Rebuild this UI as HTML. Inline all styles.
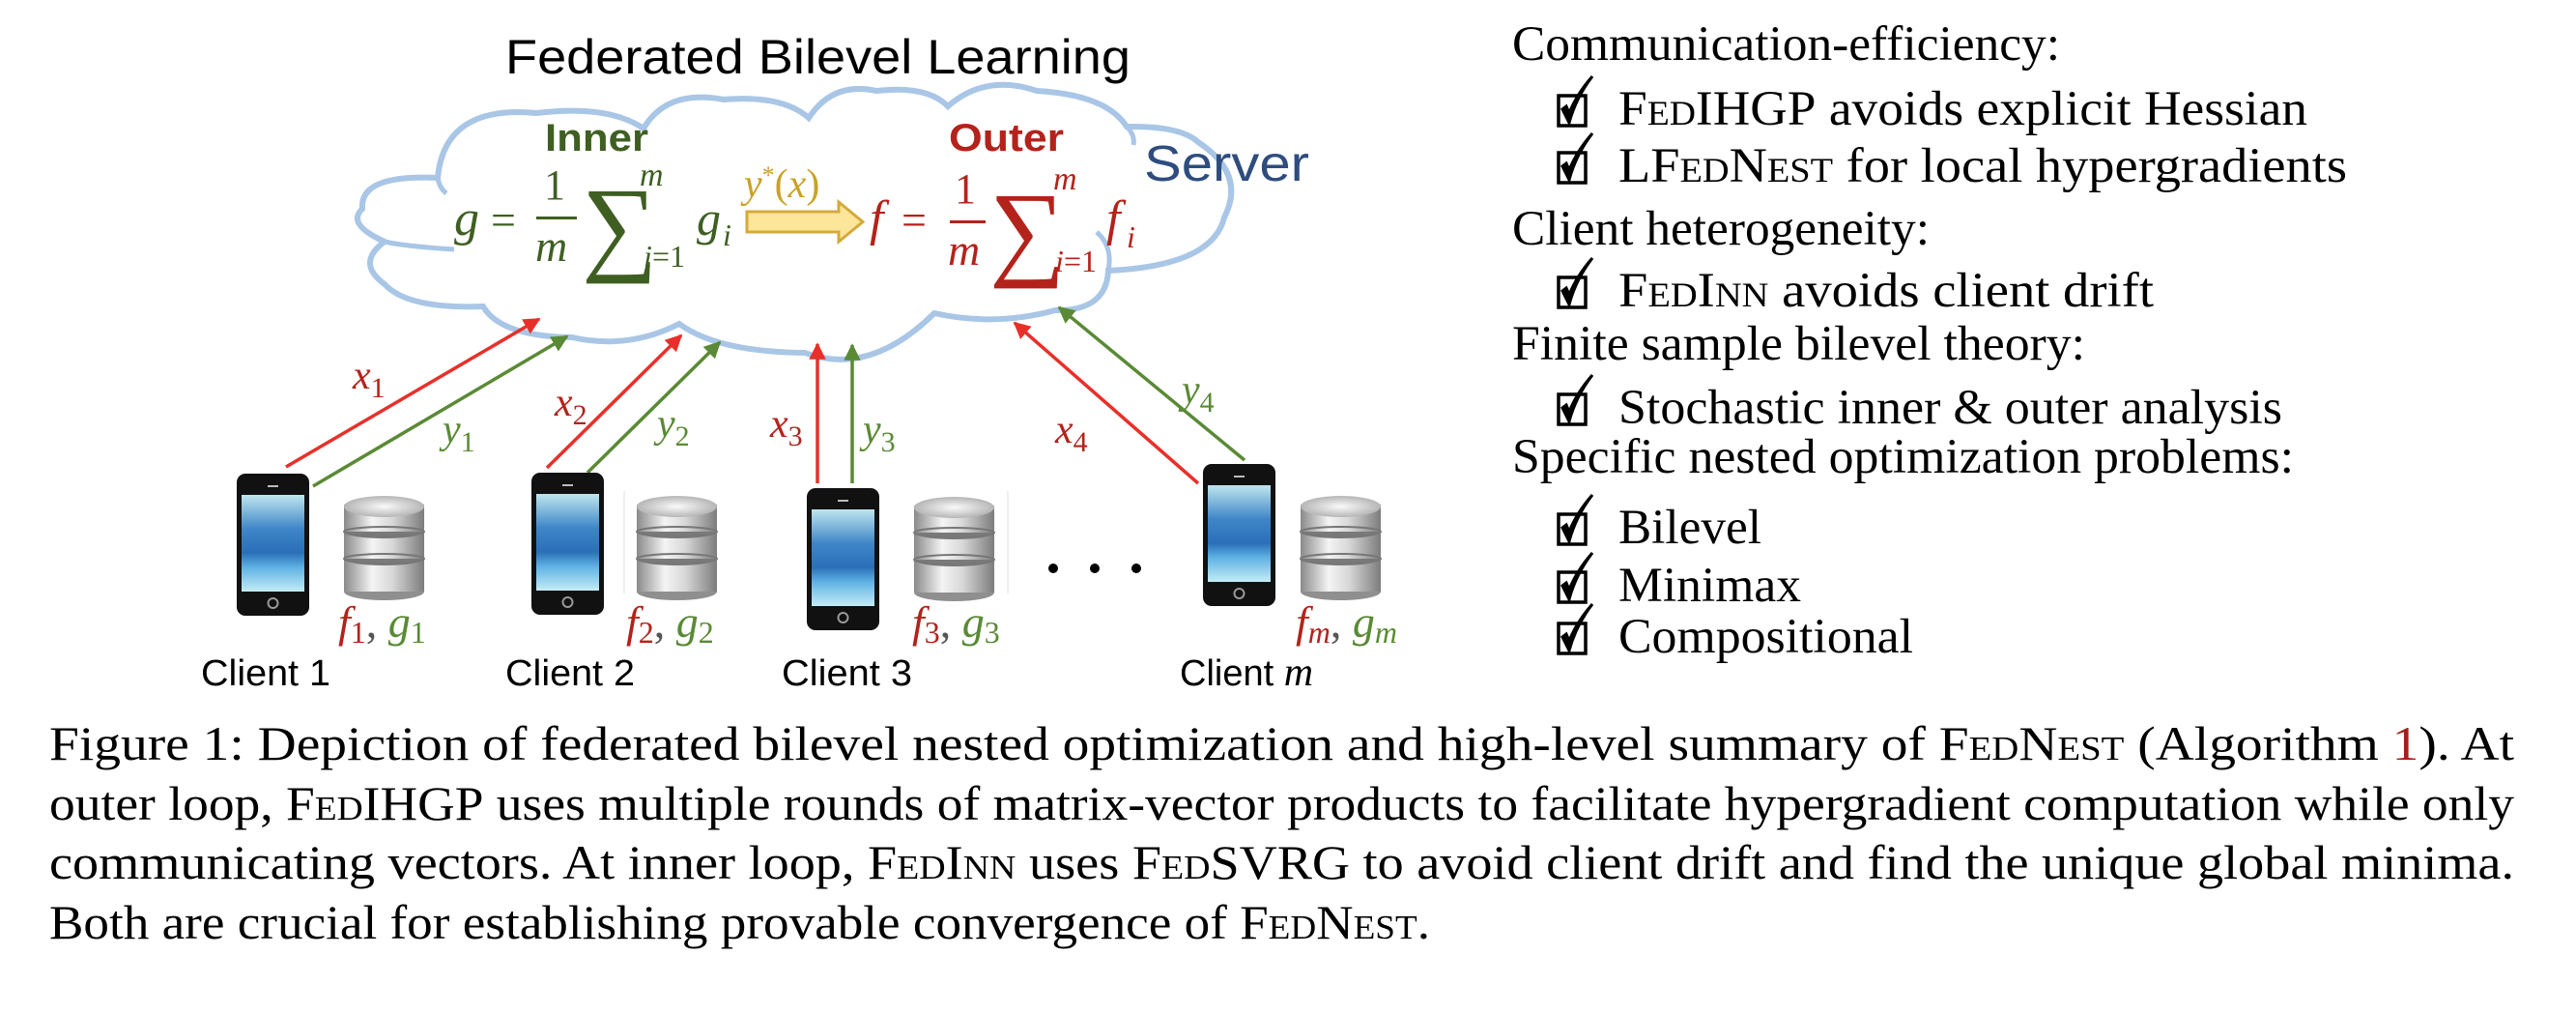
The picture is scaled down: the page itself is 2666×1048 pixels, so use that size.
<!DOCTYPE html>
<html><head><meta charset="utf-8"><style>
html,body{margin:0;padding:0;background:#fff;}
svg{display:block;}
.ser{font-family:"Liberation Serif",serif;}
.sans{font-family:"Liberation Sans",sans-serif;}
.sc{font-variant:small-caps;}
</style></head><body>
<svg width="2666" height="1048" viewBox="0 0 2666 1048" xmlns="http://www.w3.org/2000/svg">
<defs>
<marker id="ar" viewBox="0 0 10 10" refX="9" refY="5" markerWidth="5" markerHeight="5" orient="auto"><path d="M0,0L10,5L0,10z" fill="#e8302a"/></marker>
<marker id="ag" viewBox="0 0 10 10" refX="9" refY="5" markerWidth="5" markerHeight="5" orient="auto"><path d="M0,0L10,5L0,10z" fill="#5a8a35"/></marker>
<linearGradient id="scr" x1="0" y1="0" x2="0" y2="1">
<stop offset="0" stop-color="#bfe6ee"/><stop offset="0.35" stop-color="#3f86c8"/><stop offset="0.6" stop-color="#2a6fb8"/><stop offset="0.75" stop-color="#5fb2e4"/><stop offset="1" stop-color="#c4ecf6"/></linearGradient>
<linearGradient id="cyl" x1="0" y1="0" x2="1" y2="0">
<stop offset="0" stop-color="#8a8a8a"/><stop offset="0.35" stop-color="#f4f4f4"/><stop offset="0.6" stop-color="#d8d8d8"/><stop offset="1" stop-color="#7c7c7c"/></linearGradient>
<radialGradient id="top" cx="0.5" cy="0.5" r="0.6"><stop offset="0" stop-color="#fafafa"/><stop offset="1" stop-color="#a8a8a8"/></radialGradient>
<g id="phone">
<rect x="0" y="0" width="75" height="147" rx="9" fill="#111"/>
<rect x="5" y="22" width="65" height="100" fill="url(#scr)"/>
<rect x="32" y="12" width="11" height="2" fill="#bbb"/>
<circle cx="37.5" cy="134" r="5" fill="none" stroke="#999" stroke-width="2"/>
</g>
<g id="db">
<rect x="0" y="10" width="83" height="90" fill="url(#cyl)"/>
<ellipse cx="41.5" cy="100" rx="41.5" ry="9" fill="#8f8f8f"/>
<rect x="0" y="66" width="83" height="34" fill="url(#cyl)"/>
<ellipse cx="41.5" cy="66" rx="41.5" ry="7" fill="#7a7a7a"/>
<rect x="0" y="38" width="83" height="28" fill="url(#cyl)"/>
<ellipse cx="41.5" cy="66" rx="41.5" ry="5" fill="none" stroke="#777" stroke-width="2"/>
<ellipse cx="41.5" cy="38" rx="41.5" ry="7" fill="#7a7a7a"/>
<rect x="0" y="12" width="83" height="26" fill="url(#cyl)"/>
<ellipse cx="41.5" cy="38" rx="41.5" ry="5" fill="none" stroke="#777" stroke-width="2"/>
<ellipse cx="41.5" cy="12" rx="41.5" ry="11" fill="url(#top)"/>
</g>
<g id="cb">
<rect x="1" y="16" width="28" height="31" fill="none" stroke="#000" stroke-width="3.5"/>
<path d="M5,30 L12,44 Q19,18 36,-4 Q20,14 12,34 L9,27 Z" fill="#000" stroke="#000" stroke-width="3"/>
</g>
</defs>

<text class="sans" x="523" y="76" font-size="50" textLength="647" lengthAdjust="spacingAndGlyphs">Federated Bilevel Learning</text>

<path d="M453,184 Q460,108 555,117 Q630,108 666,133 Q690,92 749,103 Q810,98 837,122 Q862,84 907,94 Q960,88 981,110 Q1020,76 1073,94 Q1145,98 1166,131 Q1222,130 1240,147 Q1290,180 1267,225 Q1255,275 1147,280 Q1145,322 1092,321 Q1030,338 967,324 Q900,390 833,365 Q742,364 703,335 Q650,362 592,349 Q518,348 500,317 Q422,320 398,294 Q368,272 398,250 Q358,232 375,216 Q372,180 453,184 Z" fill="#fff" stroke="#a9c6e6" stroke-width="6"/>
<path d="M453,184 Q455,195 462,200" fill="none" stroke="#a9c6e6" stroke-width="5"/>
<path d="M1166,131 Q1175,140 1173,150" fill="none" stroke="#a9c6e6" stroke-width="5"/>
<path d="M1147,280 Q1152,255 1135,240" fill="none" stroke="#a9c6e6" stroke-width="5"/>
<path d="M398,250 Q420,255 470,258" fill="none" stroke="#a9c6e6" stroke-width="5"/>

<text class="sans" x="564" y="156" font-size="40" font-weight="bold" fill="#3f5f22" textLength="107" lengthAdjust="spacingAndGlyphs">Inner</text>
<text class="sans" x="982" y="156" font-size="40" font-weight="bold" fill="#b3231b" textLength="119" lengthAdjust="spacingAndGlyphs">Outer</text>
<text class="sans" x="1184" y="187" font-size="52" fill="#2e4d7e" textLength="171" lengthAdjust="spacingAndGlyphs">Server</text>

<g class="ser" fill="#3f5f22" font-style="italic">
<text x="470" y="243" font-size="52">g</text>
<text x="508" y="243" font-size="46" font-style="normal">=</text>
<text x="563" y="206" font-size="44" font-style="normal">1</text>
<rect x="555" y="224" width="42" height="3"/>
<text x="554" y="270" font-size="46">m</text>
<text x="602" y="270" font-size="110" font-style="normal">∑</text>
<text x="662" y="192" font-size="34">m</text>
<text x="666" y="276" font-size="32">i</text><text x="675" y="276" font-size="32" font-style="normal">=1</text>
<text x="721" y="243" font-size="50">g</text><text x="748" y="254" font-size="32">i</text>
</g>
<text class="ser" x="770" y="204" font-size="42" font-style="italic" fill="#c9a227">y<tspan font-size="26" dy="-14" font-style="normal">*</tspan><tspan dy="14" font-style="normal">(</tspan>x<tspan font-style="normal">)</tspan></text>
<path d="M773,219 L868,219 L868,209 L893,229.5 L868,250 L868,240 L773,240 Z" fill="#fde59a" stroke="#d4aa3c" stroke-width="3"/>
<g class="ser" fill="#b3231b" font-style="italic">
<text x="900" y="243" font-size="52">f</text>
<text x="933" y="243" font-size="46" font-style="normal">=</text>
<text x="988" y="210" font-size="44" font-style="normal">1</text>
<rect x="983" y="228" width="37" height="3"/>
<text x="981" y="274" font-size="46">m</text>
<text x="1024" y="275" font-size="110" font-style="normal">∑</text>
<text x="1090" y="196" font-size="34">m</text>
<text x="1092" y="281" font-size="32">i</text><text x="1101" y="281" font-size="32" font-style="normal">=1</text>
<text x="1145" y="243" font-size="52">f</text><text x="1166" y="256" font-size="32">i</text>
</g>

<g stroke-width="3.5" fill="none">
<line x1="296" y1="483" x2="558" y2="330" stroke="#e8302a" marker-end="url(#ar)"/>
<line x1="324" y1="503" x2="587" y2="348" stroke="#5a8a35" marker-end="url(#ag)"/>
<line x1="566" y1="484" x2="705" y2="347" stroke="#e8302a" marker-end="url(#ar)"/>
<line x1="608" y1="489" x2="745" y2="354" stroke="#5a8a35" marker-end="url(#ag)"/>
<line x1="846" y1="500" x2="846" y2="356" stroke="#e8302a" marker-end="url(#ar)"/>
<line x1="882" y1="500" x2="882" y2="357" stroke="#5a8a35" marker-end="url(#ag)"/>
<line x1="1240" y1="500" x2="1050" y2="334" stroke="#e8302a" marker-end="url(#ar)"/>
<line x1="1288" y1="476" x2="1096" y2="318" stroke="#5a8a35" marker-end="url(#ag)"/>
</g>
<g class="ser" font-style="italic" font-size="42">
<text x="365" y="402" fill="#b3231b">x<tspan font-size="30" dy="9" font-style="normal">1</tspan></text>
<text x="458" y="458" fill="#5a8a35">y<tspan font-size="30" dy="9" font-style="normal">1</tspan></text>
<text x="574" y="430" fill="#b3231b">x<tspan font-size="30" dy="9" font-style="normal">2</tspan></text>
<text x="680" y="452" fill="#5a8a35">y<tspan font-size="30" dy="9" font-style="normal">2</tspan></text>
<text x="797" y="452" fill="#b3231b">x<tspan font-size="30" dy="9" font-style="normal">3</tspan></text>
<text x="893" y="458" fill="#5a8a35">y<tspan font-size="30" dy="9" font-style="normal">3</tspan></text>
<text x="1092" y="458" fill="#b3231b">x<tspan font-size="30" dy="9" font-style="normal">4</tspan></text>
<text x="1223" y="417" fill="#5a8a35">y<tspan font-size="30" dy="9" font-style="normal">4</tspan></text>
</g>

<use href="#phone" x="245" y="490"/>
<use href="#phone" x="550" y="489"/>
<use href="#phone" x="835" y="505"/>
<use href="#phone" x="1245" y="480"/>
<use href="#db" x="356" y="512"/>
<use href="#db" x="659" y="512"/>
<use href="#db" x="946" y="513"/>
<use href="#db" x="1346" y="512"/>
<line x1="646" y1="508" x2="646" y2="614" stroke="#ddd" stroke-width="1"/>
<line x1="1043" y1="508" x2="1043" y2="614" stroke="#ddd" stroke-width="1"/>
<circle cx="1090" cy="588" r="5" fill="#000"/><circle cx="1133" cy="588" r="5" fill="#000"/><circle cx="1176" cy="588" r="5" fill="#000"/>

<g class="ser" font-style="italic" font-size="46">
<text x="350" y="659"><tspan fill="#b3231b">f</tspan><tspan fill="#b3231b" font-size="32" dy="6" font-style="normal">1</tspan><tspan dy="-6" font-style="normal" fill="#555">, </tspan><tspan fill="#5a8a35">g</tspan><tspan fill="#5a8a35" font-size="32" dy="6" font-style="normal">1</tspan></text>
<text x="648" y="659"><tspan fill="#b3231b">f</tspan><tspan fill="#b3231b" font-size="32" dy="6" font-style="normal">2</tspan><tspan dy="-6" font-style="normal" fill="#555">, </tspan><tspan fill="#5a8a35">g</tspan><tspan fill="#5a8a35" font-size="32" dy="6" font-style="normal">2</tspan></text>
<text x="944" y="659"><tspan fill="#b3231b">f</tspan><tspan fill="#b3231b" font-size="32" dy="6" font-style="normal">3</tspan><tspan dy="-6" font-style="normal" fill="#555">, </tspan><tspan fill="#5a8a35">g</tspan><tspan fill="#5a8a35" font-size="32" dy="6" font-style="normal">3</tspan></text>
<text x="1341" y="659"><tspan fill="#b3231b">f</tspan><tspan fill="#b3231b" font-size="32" dy="6">m</tspan><tspan dy="-6" font-style="normal" fill="#555">, </tspan><tspan fill="#5a8a35">g</tspan><tspan fill="#5a8a35" font-size="32" dy="6">m</tspan></text>
</g>
<g class="sans" font-size="38">
<text x="208" y="709" textLength="134" lengthAdjust="spacingAndGlyphs">Client 1</text>
<text x="523" y="709" textLength="134" lengthAdjust="spacingAndGlyphs">Client 2</text>
<text x="809" y="709" textLength="135" lengthAdjust="spacingAndGlyphs">Client 3</text>
<text x="1221" y="709">Client <tspan class="ser" font-style="italic" font-size="42">m</tspan></text>
</g>

<g class="ser" font-size="51">
<text x="1565" y="62" textLength="567" lengthAdjust="spacingAndGlyphs">Communication-efficiency:</text>
<use href="#cb" x="1612" y="83"/>
<text x="1675" y="129" textLength="713" lengthAdjust="spacingAndGlyphs"><tspan class="sc">FedIHGP</tspan> avoids explicit Hessian</text>
<use href="#cb" x="1612" y="142"/>
<text x="1675" y="188" textLength="754" lengthAdjust="spacingAndGlyphs">L<tspan class="sc">FedNest</tspan> for local hypergradients</text>
<text x="1565" y="253" textLength="432" lengthAdjust="spacingAndGlyphs">Client heterogeneity:</text>
<use href="#cb" x="1612" y="271"/>
<text x="1675" y="317" textLength="554" lengthAdjust="spacingAndGlyphs"><tspan class="sc">FedInn</tspan> avoids client drift</text>
<text x="1565" y="372" textLength="593" lengthAdjust="spacingAndGlyphs">Finite sample bilevel theory:</text>
<use href="#cb" x="1612" y="392"/>
<text x="1675" y="438" textLength="687" lengthAdjust="spacingAndGlyphs">Stochastic inner &amp; outer analysis</text>
<text x="1565" y="489" textLength="809" lengthAdjust="spacingAndGlyphs">Specific nested optimization problems:</text>
<use href="#cb" x="1612" y="516"/>
<text x="1675" y="562" textLength="148" lengthAdjust="spacingAndGlyphs">Bilevel</text>
<use href="#cb" x="1612" y="576"/>
<text x="1675" y="622" textLength="189" lengthAdjust="spacingAndGlyphs">Minimax</text>
<use href="#cb" x="1612" y="629"/>
<text x="1675" y="675" textLength="305" lengthAdjust="spacingAndGlyphs">Compositional</text>
</g>

<g class="ser" font-size="50">
<text x="51" y="786" textLength="2551" lengthAdjust="spacingAndGlyphs">Figure 1: Depiction of federated bilevel nested optimization and high-level summary of <tspan class="sc">FedNest</tspan> (Algorithm <tspan fill="#a3201a">1</tspan>). At</text>
<text x="51" y="848" textLength="2551" lengthAdjust="spacingAndGlyphs">outer loop, <tspan class="sc">FedIHGP</tspan> uses multiple rounds of matrix-vector products to facilitate hypergradient computation while only</text>
<text x="51" y="909" textLength="2551" lengthAdjust="spacingAndGlyphs">communicating vectors. At inner loop, <tspan class="sc">FedInn</tspan> uses <tspan class="sc">FedSVRG</tspan> to avoid client drift and find the unique global minima.</text>
<text x="51" y="971" textLength="1429" lengthAdjust="spacingAndGlyphs">Both are crucial for establishing provable convergence of <tspan class="sc">FedNest</tspan>.</text>
</g>
</svg>
</body></html>
